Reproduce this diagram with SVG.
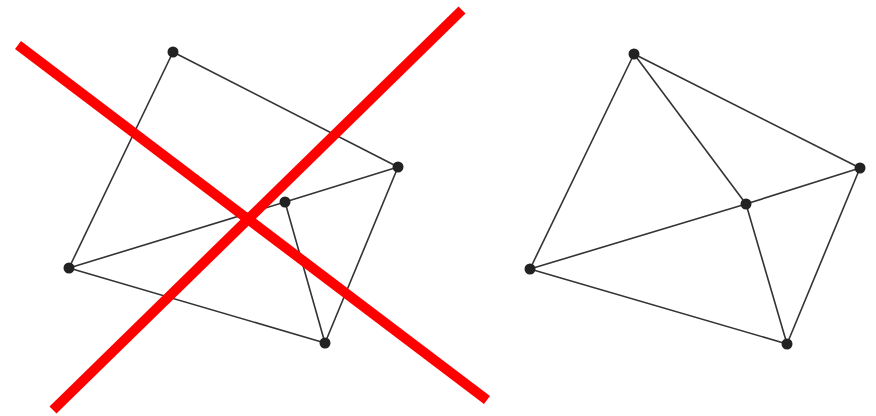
<svg xmlns="http://www.w3.org/2000/svg" width="876" height="416" viewBox="0 0 876 416">
<style>
.e{stroke:#333;stroke-width:1.6;fill:none}
.n{fill:#222}
.x{stroke:#ff0000;stroke-width:10;stroke-linecap:butt}
</style>
<rect width="876" height="416" fill="#fff"/>
<g id="connectors">
<line class="e" x1="173" y1="52" x2="398" y2="167"/>
<line class="e" x1="173" y1="52" x2="69" y2="268"/>
<line class="e" x1="69" y1="268" x2="285" y2="202"/>
<line class="e" x1="285" y1="202" x2="398" y2="167"/>
<line class="e" x1="285" y1="202" x2="325" y2="343"/>
<line class="e" x1="398" y1="167" x2="325" y2="343"/>
<line class="e" x1="69" y1="268" x2="325" y2="343"/>
<line class="e" x1="634" y1="54" x2="860" y2="168"/>
<line class="e" x1="634" y1="54" x2="530" y2="269"/>
<line class="e" x1="634" y1="54" x2="746" y2="204"/>
<line class="e" x1="530" y1="269" x2="746" y2="204"/>
<line class="e" x1="746" y1="204" x2="860" y2="168"/>
<line class="e" x1="746" y1="204" x2="787" y2="344"/>
<line class="e" x1="860" y1="168" x2="787" y2="344"/>
<line class="e" x1="530" y1="269" x2="787" y2="344"/>
</g>
<g id="nodeA"><circle class="n" cx="173" cy="52" r="5.5"/></g>
<g id="nodeB"><circle class="n" cx="398" cy="167" r="5.5"/></g>
<g id="nodeC"><circle class="n" cx="285" cy="202" r="5.5"/></g>
<g id="nodeD"><circle class="n" cx="69" cy="268" r="5.5"/></g>
<g id="nodeE"><circle class="n" cx="325" cy="343" r="5.5"/></g>
<g id="nodeP"><circle class="n" cx="634" cy="54" r="5.5"/></g>
<g id="nodeQ"><circle class="n" cx="860" cy="168" r="5.5"/></g>
<g id="nodeR"><circle class="n" cx="746" cy="204" r="5.5"/></g>
<g id="nodeS"><circle class="n" cx="530" cy="269" r="5.5"/></g>
<g id="nodeT"><circle class="n" cx="787" cy="344" r="5.5"/></g>
<g id="cross">
<line class="x" x1="18" y1="45" x2="487" y2="400"/>
<line class="x" x1="462" y1="10" x2="53" y2="410"/>
</g>
</svg>
